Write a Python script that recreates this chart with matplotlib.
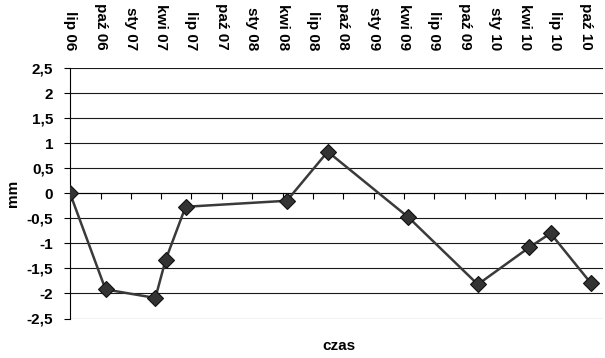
import datetime as dt
import numpy as np
import matplotlib
matplotlib.use("Agg")
import matplotlib.pyplot as plt
import matplotlib.dates as mdates
from matplotlib.ticker import FuncFormatter, MultipleLocator

plt.rcParams['font.family'] = ['Liberation Sans', 'DejaVu Sans']
plt.rcParams['font.weight'] = 'bold'
plt.rcParams['axes.unicode_minus'] = False

# measurement dates and displacement values (mm)
dates = [
    dt.date(2006, 7, 1), dt.date(2006, 10, 16), dt.date(2007, 3, 15),
    dt.date(2007, 4, 15), dt.date(2007, 6, 14), dt.date(2008, 4, 14),
    dt.date(2008, 8, 15), dt.date(2009, 4, 15), dt.date(2009, 11, 10),
    dt.date(2010, 4, 14), dt.date(2010, 6, 17), dt.date(2010, 10, 16),
]
values = [0.0, -1.92, -2.09, -1.33, -0.27, -0.15, 0.83, -0.48, -1.82, -1.08, -0.80, -1.79]

# quarterly tick labels (Polish month abbreviations)
tick_labels = ['lip 06', 'paź 06', 'sty 07', 'kwi 07', 'lip 07', 'paź 07',
               'sty 08', 'kwi 08', 'lip 08', 'paź 08', 'sty 09', 'kwi 09',
               'lip 09', 'paź 09', 'sty 10', 'kwi 10', 'lip 10', 'paź 10']
tick_dates = [dt.date(2006 + (6 + 3 * i) // 12, (6 + 3 * i) % 12 + 1, 1)
              for i in range(len(tick_labels))]

fig = plt.figure(figsize=(6.05, 3.58), dpi=100)
ax = fig.add_axes([70 / 605, 1 - 318.5 / 358, 533 / 605, 250.5 / 358])

ax.set_ylim(-2.5, 2.5)
ax.set_xlim(dt.date(2006, 7, 1), dt.date(2010, 11, 22))
ax.yaxis.set_major_locator(MultipleLocator(0.5))
ax.yaxis.set_major_formatter(FuncFormatter(lambda v, p: f"{v:g}".replace('.', ',')))
ax.grid(axis='y', color='#1a1a1a', linewidth=0.8)
ax.set_axisbelow(True)

ax.plot(dates, values, color='#3a3a3a', linewidth=1.8, marker='D',
        markersize=8, markerfacecolor='#333333', markeredgecolor='#111111',
        markeredgewidth=0.8, zorder=3)

ax.set_xticks([mdates.date2num(d) for d in tick_dates])
ax.set_xticklabels(tick_labels)
ax.tick_params(axis='x', top=False, labeltop=True, bottom=True, labelbottom=False,
               direction='out', length=4, width=0.8, color='black', pad=9,
               labelrotation=-90, labelsize=11)
ax.tick_params(axis='y', direction='out', length=4, width=0.8, color='black',
               labelsize=11, pad=8)

for s in ['top', 'right']:
    ax.spines[s].set_visible(False)
ax.spines['bottom'].set_position(('data', 0))
ax.spines['bottom'].set_color('black')
ax.spines['bottom'].set_linewidth(0.8)
ax.spines['left'].set_color('black')
ax.spines['left'].set_linewidth(0.8)

ax.set_ylabel('mm', fontsize=11, fontweight='bold', labelpad=5)
fig.text(339 / 605, 1 - 346 / 358, 'czas', ha='center', va='center',
         fontsize=11, fontweight='bold')

fig.savefig('out.png', dpi=100)
